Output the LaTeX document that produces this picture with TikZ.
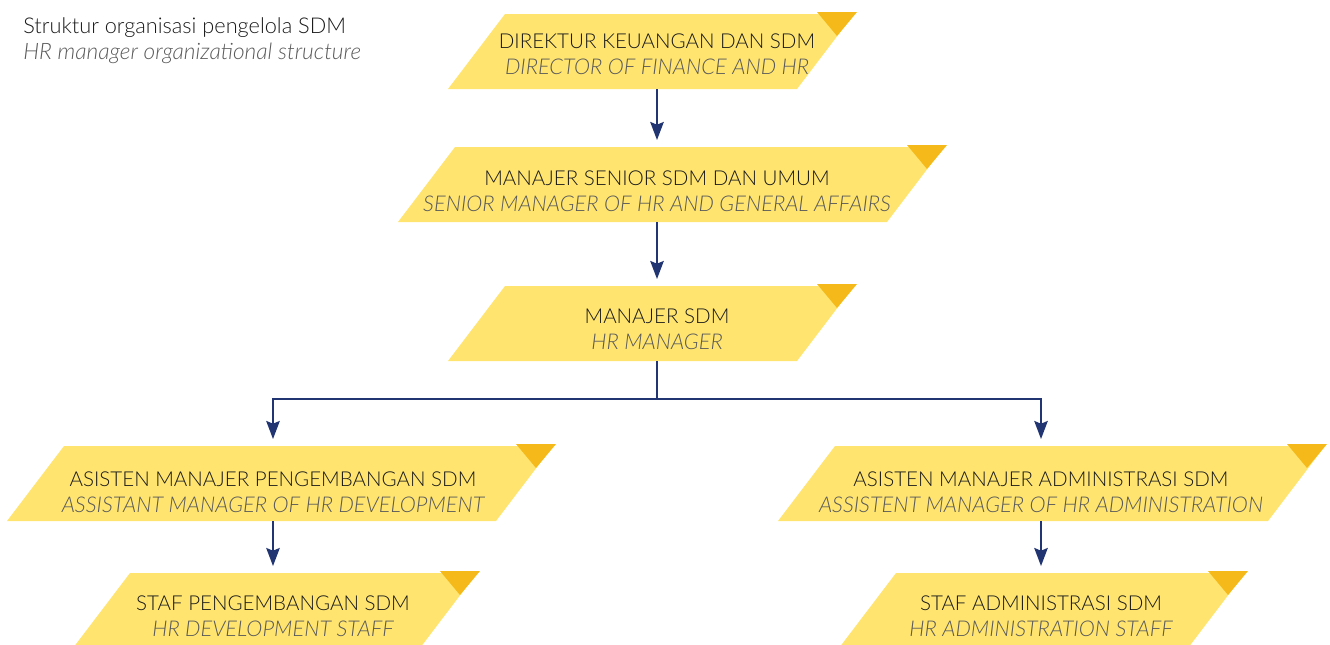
\documentclass[tikz,border=0pt]{standalone}
\usepackage{fontspec}
\setmainfont{Lato}[UprightFont=* Light, ItalicFont=* Light Italic]
\usepackage{tikz}
\usetikzlibrary{positioning,arrows.meta}

\definecolor{boxyellow}{RGB}{255,229,112}
\definecolor{cornergold}{RGB}{245,186,26}
\definecolor{linknavy}{RGB}{33,53,115}
\definecolor{subgray}{RGB}{90,90,90}
\definecolor{maintext}{RGB}{26,26,26}

\newcommand{\subline}[1]{\textcolor{subgray}{\fontsize{16.3}{19.5}\selectfont\itshape #1}}

\begin{document}
\begin{tikzpicture}[x=0.75pt,y=0.75pt,yscale=-1,xscale=1,
        boxslot/.style={minimum height=56.25pt,minimum width=0pt,inner sep=0pt},
        boxtext/.style={align=center,inner sep=0pt,font=\fontsize{15.4}{19.5}\selectfont,text=maintext},
        link/.style={draw=linknavy,line width=1.9pt},
        arrowlink/.style={link,-{Stealth[length=13.5pt,width=10pt,inset=2pt]},shorten >=5pt}]
        \useasboundingbox (0,0) rectangle (1330,644);

        % Text Node
        \node [anchor=base west,inner sep=0pt,font=\fontsize{16.3}{18}\selectfont,text=maintext] (title) at (23,33) {Struktur organisasi pengelola SDM};
        % Text Node
        \node [anchor=base west,inner sep=0pt,font=\fontsize{17}{18}\selectfont\itshape,text=subgray] (subtitle) at (23,59) {HR manager organizational structure};

        %Shape: Parallelogram
        \fill [boxyellow] (448,89) -- (505,14) -- (854,14) -- (797,89) -- cycle ;
        %Shape: Parallelogram
        \fill [boxyellow] (398,222) -- (455,147) -- (944,147) -- (887,222) -- cycle ;
        %Shape: Parallelogram
        \fill [boxyellow] (448,361) -- (505,286) -- (854,286) -- (797,361) -- cycle ;
        %Shape: Parallelogram
        \fill [boxyellow] (7,521) -- (64,446) -- (553,446) -- (496,521) -- cycle ;
        %Shape: Parallelogram
        \fill [boxyellow] (778,521) -- (835,446) -- (1325,446) -- (1268,521) -- cycle ;
        %Shape: Parallelogram
        \fill [boxyellow] (73,648) -- (130,573) -- (477,573) -- (420,648) -- cycle ;
        %Shape: Parallelogram
        \fill [boxyellow] (839,648) -- (896,573) -- (1245,573) -- (1188,648) -- cycle ;

        %Shape: Triangle
        \fill [cornergold] (817,12) -- (857,12) -- (837,36) -- cycle ;
        %Shape: Triangle
        \fill [cornergold] (907,145) -- (947,145) -- (927,169) -- cycle ;
        %Shape: Triangle
        \fill [cornergold] (817,284) -- (857,284) -- (837,308) -- cycle ;
        %Shape: Triangle
        \fill [cornergold] (516,444) -- (556,444) -- (536,468) -- cycle ;
        %Shape: Triangle
        \fill [cornergold] (1287,444) -- (1327,444) -- (1307,468) -- cycle ;
        %Shape: Triangle
        \fill [cornergold] (440,571) -- (480,571) -- (460,595) -- cycle ;
        %Shape: Triangle
        \fill [cornergold] (1208,571) -- (1248,571) -- (1228,595) -- cycle ;

        % Box slots (vertical extent of each box, on the connector line)
        \node [boxslot] (dirfin) at (657,51.5) {};
        \node [boxslot] (senior) at (657,184.5) {};
        \node [boxslot] (mgr) at (657,323.5) {};
        \node [boxslot] (astdev) at (273,483.5) {};
        \node [boxslot] (astadm) at (1041,483.5) {};
        \node [boxslot] (stfdev) at (273,610.5) {};
        \node [boxslot] (stfadm) at (1041,610.5) {};

        % Text Node
        \node [boxtext,yshift=-2.25pt] (dirfin-txt) at (dirfin) {DIREKTUR KEUANGAN DAN SDM\\\subline{DIRECTOR OF FINANCE AND HR}};
        % Text Node
        \node [boxtext,yshift=-5.25pt] (senior-txt) at (senior) {MANAJER SENIOR SDM DAN UMUM\\\subline{SENIOR MANAGER OF HR AND GENERAL AFFAIRS}};
        % Text Node
        \node [boxtext,yshift=-4.5pt] (mgr-txt) at (mgr) {MANAJER SDM\\\subline{HR MANAGER}};
        % Text Node
        \node [boxtext,yshift=-6.75pt] (astdev-txt) at (astdev) {ASISTEN MANAJER PENGEMBANGAN SDM\\\subline{ASSISTANT MANAGER OF HR DEVELOPMENT}};
        % Text Node
        \node [boxtext,yshift=-6.75pt] (astadm-txt) at (astadm) {ASISTEN MANAJER ADMINISTRASI SDM\\\subline{ASSISTENT MANAGER OF HR ADMINISTRATION}};
        % Text Node
        \node [boxtext,yshift=-4.5pt] (stfdev-txt) at (stfdev) {STAF PENGEMBANGAN SDM\\\subline{HR DEVELOPMENT STAFF}};
        % Text Node
        \node [boxtext,yshift=-4.5pt] (stfadm-txt) at (stfadm) {STAF ADMINISTRASI SDM\\\subline{HR ADMINISTRATION STAFF}};

        %Connectors
        \coordinate (branch) at (657,399);
        \draw [arrowlink] (dirfin.south) -- (senior.north) ;
        \draw [arrowlink] (senior.south) -- (mgr.north) ;
        \draw [link] (mgr.south) -- (branch) ;
        \draw [arrowlink] (branch) -| (astdev.north) ;
        \draw [arrowlink] (branch) -| (astadm.north) ;
        \draw [arrowlink] (astdev.south) -- (stfdev.north) ;
        \draw [arrowlink] (astadm.south) -- (stfadm.north) ;
\end{tikzpicture}
\end{document}
